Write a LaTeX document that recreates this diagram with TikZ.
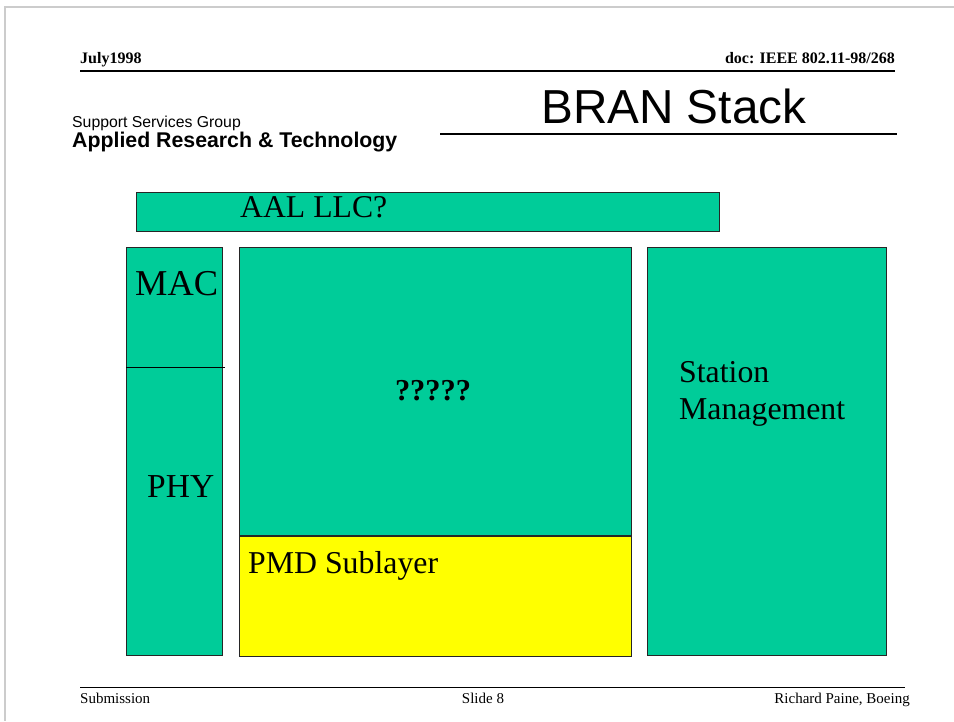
\documentclass[tikz,border=0pt]{standalone}
\usepackage{fontspec}
\setmainfont{Liberation Serif}
\newfontfamily\arial{Liberation Sans}
\usetikzlibrary{positioning}

\definecolor{slidegreen}{RGB}{0,204,153}
\definecolor{slideyellow}{RGB}{255,255,0}

\tikzset{
	layerbox/.style={draw=black!85, line width=1pt, fill=slidegreen, inner sep=0, anchor=north west},
	lbl/.style={inner sep=0, anchor=base west},
}

\begin{document}
\begin{tikzpicture}[x=1pt, y=-1pt]
		\useasboundingbox (0,0) rectangle (954,721);

		\draw[black!20, line width=1.2pt]	(954,7) -- (5,7) -- (5,721);

		\node[lbl, font=\fontsize{16}{18}\selectfont\bfseries] (date) at (80,63) {July1998};
		\node[inner sep=0, anchor=base east, font=\fontsize{16}{18}\selectfont\bfseries] (doc) at (895,63) {doc: IEEE 802.11-98/268};
		\draw[line width=1.3pt]	(80,71) -- (895,71);

		\node[lbl, font=\arial\fontsize{15.8}{18}\selectfont] (group) at (72,127) {Support Services Group};
		\node[lbl, font=\arial\fontsize{21.3}{23}\selectfont\bfseries] (art) at (72,147) {Applied Research \& Technology};
		\node[lbl, font=\arial\fontsize{47.7}{50}\selectfont] (title) at (541,123) {BRAN Stack};
		\draw[line width=2.2pt]	(440,134) -- (897,134);

		\node[layerbox, minimum width=583pt, minimum height=39pt] (aal) at (136,192) {};
		\node[layerbox, minimum width=96pt, minimum height=408pt] (macphy) at (126,247) {};
		\node[layerbox, minimum width=392pt, minimum height=288pt] (mid) at (239,247) {};
		\node[layerbox, fill=slideyellow, minimum width=392pt, minimum height=120pt, below=0pt of mid.south west, anchor=north west] (pmd) {};
		\node[layerbox, minimum width=239pt, minimum height=408pt] (stm) at (647,247) {};

		\coordinate (split) at (126,367);
		\draw[line width=1pt]	(split) -- ++(99,0);

		\node[lbl, font=\fontsize{31.7}{34}\selectfont] at (240,217) {AAL LLC?};
		\node[lbl, font=\fontsize{36.4}{38}\selectfont] at (135,295) {MAC};
		\node[lbl, font=\fontsize{33.5}{36}\selectfont] at (147,497) {PHY};
		\node[inner sep=0, anchor=base, font=\fontsize{30.4}{32}\selectfont\bfseries] at (433,400) {?????};
		\node[lbl, font=\fontsize{31.8}{34}\selectfont] at (248,573) {PMD Sublayer};
		\node[lbl, font=\fontsize{31.8}{37}\selectfont, align=left, anchor=north west] at (679,361) {Station\\Management};

		\draw[line width=1pt]	(80,687) -- (905,687);
		\node[lbl, font=\fontsize{15}{17}\selectfont] (sub) at (80,703) {Submission};
		\node[inner sep=0, anchor=base, font=\fontsize{15}{17}\selectfont] (slide) at (483,703) {Slide 8};
		\node[inner sep=0, anchor=base east, font=\fontsize{15}{17}\selectfont] (auth) at (910,703) {Richard Paine, Boeing};
	\end{tikzpicture}
\end{document}
